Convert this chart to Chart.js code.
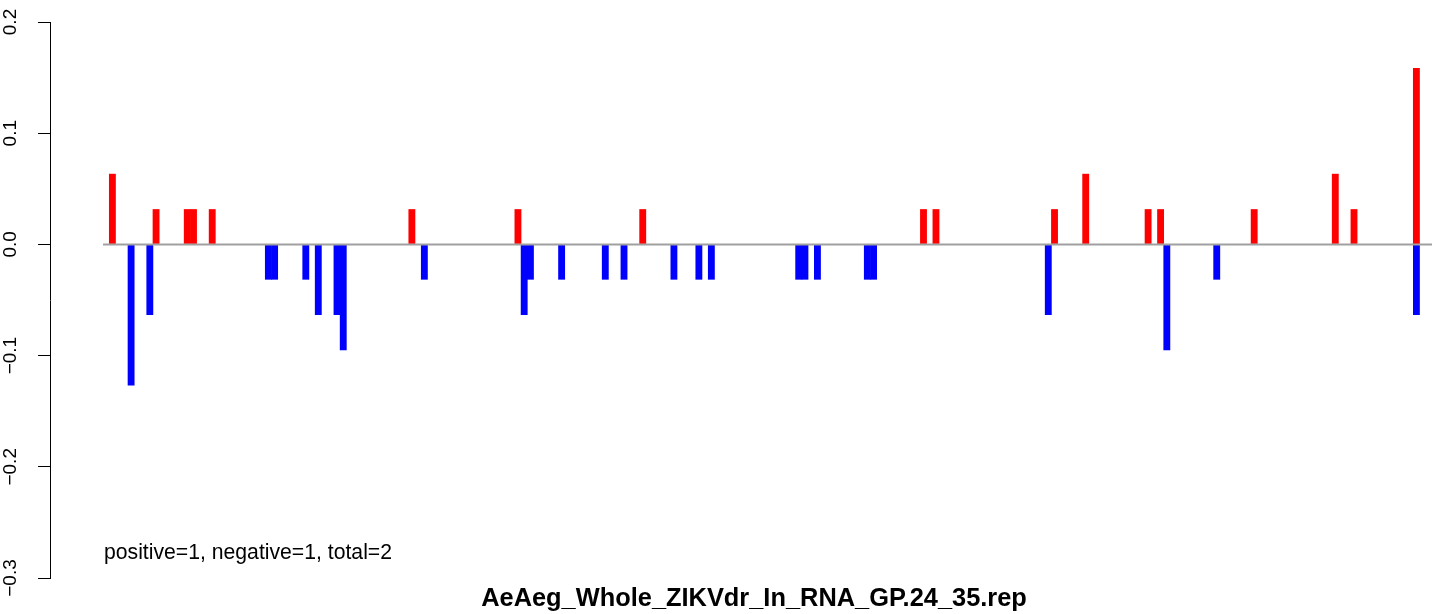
<!DOCTYPE html>
<html>
<head>
<meta charset="utf-8">
<script src="https://cdn.jsdelivr.net/npm/chart.js@4"></script>
<style>
  body { margin: 0; background: #fff; }
  canvas { display: block; }
</style>
</head>
<body>
<canvas id="repChart" width="1444" height="614"></canvas>
<script>
// positions along the read (x) and values of the positive / negative strands
const posPositions = [2, 9, 14, 15, 18, 50, 67, 87, 132, 134, 153, 158, 168, 170, 185, 198, 201, 211]
const posValues = [0.0635, 0.0317, 0.0317, 0.0317, 0.0317, 0.0317, 0.0317, 0.0317, 0.0317, 0.0317,
    0.0317, 0.0635, 0.0317, 0.0317, 0.0317, 0.0635, 0.0317, 0.1587]

const negPositions = [5, 8, 27, 28, 33, 35, 38, 39, 52, 68, 69, 74, 81, 84, 92, 96, 98,
    112, 113, 115, 123, 124, 152, 171, 179, 211]
const negValues = [-0.127, -0.0635, -0.0317, -0.0317, -0.0317, -0.0635, -0.0635, -0.0952, -0.0317, -0.0635,
    -0.0317, -0.0317, -0.0317, -0.0317, -0.0317, -0.0317, -0.0317, -0.0317, -0.0317, -0.0317,
    -0.0317, -0.0317, -0.0635, -0.0952, -0.0317, -0.0635]

const baseRange = [0.5, 213.5] // extent of the zero line
const yTicks = [-0.3, -0.2, -0.1, 0.0, 0.1, 0.2]
const yTickLabels = ['\u22120.3', '\u22120.2', '\u22120.1', '0.0', '0.1', '0.2']

const chartTitle = 'AeAeg_Whole_ZIKVdr_In_RNA_GP.24_35.rep'
const noteText = 'positive=1, negative=1, total=2'

const toPoints = (xs, ys) => xs.map((x, i) => ({ x: x, y: ys[i] }))

// rotated y labels, note and title, drawn like base R graphics
const textPlugin = {
    id: 'rText',
    afterDraw(chart) {
        const ctx = chart.ctx
        const yScale = chart.scales.y
        ctx.save()
        ctx.fillStyle = '#000'
        ctx.font = '19px "Liberation Sans", Arial, sans-serif'
        ctx.textAlign = 'center'
        ctx.textBaseline = 'alphabetic'
        yTicks.forEach((v, i) => {
            ctx.save()
            ctx.translate(16, yScale.getPixelForValue(v))
            ctx.rotate(-Math.PI / 2)
            ctx.fillText(yTickLabels[i], 0, 0)
            ctx.restore()
        })
        ctx.textAlign = 'left'
        ctx.font = '21.2px "Liberation Sans", Arial, sans-serif'
        ctx.fillText(noteText, 104, 559)
        ctx.textAlign = 'center'
        ctx.font = 'bold 25.4px "Liberation Sans", Arial, sans-serif'
        ctx.fillText(chartTitle, 754, 606)
        ctx.restore()
    }
}

const data = {
    datasets: [{
        type: 'line',
        data: toPoints(baseRange, [0, 0]),
        borderColor: '#a0a0a0',
        borderWidth: 2,
        pointRadius: 0,
        order: 0
    }, {
        type: 'bar',
        data: toPoints(posPositions, posValues),
        backgroundColor: '#ff0000',
        order: 1
    }, {
        type: 'bar',
        data: toPoints(negPositions, negValues),
        backgroundColor: '#0000ff',
        order: 1
    }]
}

const config = {
    type: 'bar',
    data: data,
    options: {
        responsive: false,
        animation: false,
        layout: { padding: { left: 38, right: 12, top: 22, bottom: 36 } },
        datasets: {
            bar: { grouped: false, barPercentage: 1.1, categoryPercentage: 1, borderWidth: 0 }
        },
        plugins: {
            legend: { display: false },
            tooltip: { enabled: false },
            title: { display: false }
        },
        scales: {
            x: {
                type: 'linear',
                min: -8,
                max: 213.5,
                offset: false,
                display: false
            },
            y: {
                min: -0.3,
                max: 0.2,
                ticks: { stepSize: 0.1, display: false },
                grid: { drawOnChartArea: false, drawTicks: true, tickLength: 12, color: '#000', lineWidth: 1 },
                border: { display: true, color: '#000', width: 1 }
            }
        }
    },
    plugins: [textPlugin]
}

new Chart(document.getElementById('repChart'), config)
</script>
</body>
</html>
